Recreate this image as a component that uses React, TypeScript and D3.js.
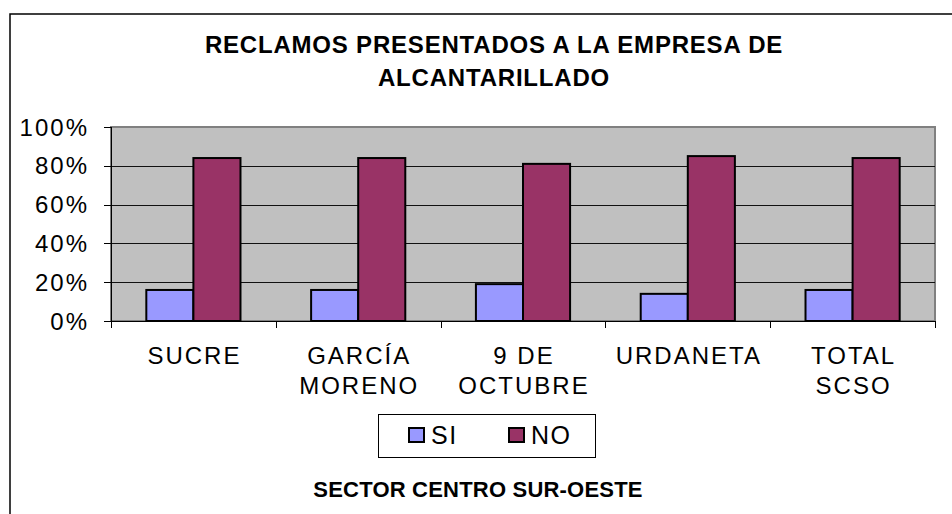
import React from "react";
import * as d3 from "d3";

const categories: string[][] = [
  ["SUCRE"],
  ["GARCÍA", "MORENO"],
  ["9 DE", "OCTUBRE"],
  ["URDANETA"],
  ["TOTAL", "SCSO"],
];
const seriesNames = ["SI", "NO"];
const siValues = [16, 16, 19, 14, 16];
const noValues = [84, 84, 81, 85, 84];
const yTicks = [0, 20, 40, 60, 80, 100];
const titleLines = ["RECLAMOS PRESENTADOS A LA EMPRESA DE", "ALCANTARILLADO"];
const xTitle = "SECTOR CENTRO SUR-OESTE";
const colors = ["#9999FF", "#993366"];

export default function App() {
  const W = 952, H = 514;
  const left = 111, right = 935, top = 127, bottom = 321;
  const keys = categories.map((c) => c.join(" "));
  const x = d3.scaleBand<string>().domain(keys).range([left, right]).padding(0);
  const xs = d3
    .scaleBand<string>()
    .domain(seriesNames)
    .range([0, x.bandwidth()])
    .paddingInner(0)
    .paddingOuter(0.75);
  const y = d3.scaleLinear().domain([0, 100]).range([bottom, top]);
  const values = [siValues, noValues];
  const font = "Arial, 'Liberation Sans', sans-serif";
  const ls = 2;
  const fs = 24;

  return (
    <svg
      width={W}
      height={H}
      style={{ position: "absolute", left: 0, top: 0, background: "#fff" }}
      fontFamily={font}
    >
      <rect x={10} y={14} width={W + 20} height={H + 20} fill="#fff" stroke="#000" strokeWidth={1.5} />
      {titleLines.map((t, i) => (
        <text
          key={t}
          x={494}
          y={53 + i * 33}
          textAnchor="middle"
          fontWeight="bold"
          fontSize={24}
          letterSpacing={0.8}
        >
          {t}
        </text>
      ))}
      <rect x={left} y={top} width={right - left} height={bottom - top} fill="#C0C0C0" stroke="#808080" strokeWidth={2} />
      {yTicks.slice(1, -1).map((t) => (
        <line key={t} x1={left} x2={right} y1={Math.round(y(t)) + 0.5} y2={Math.round(y(t)) + 0.5} stroke="#111" strokeWidth={1} />
      ))}
      {yTicks.map((t) => (
        <g key={"yt" + t}>
          <line x1={left - 7} x2={left} y1={Math.round(y(t)) + 0.5} y2={Math.round(y(t)) + 0.5} stroke="#000" />
          <text x={87 + ls} y={y(t) + 8.5} textAnchor="end" fontSize={fs} letterSpacing={ls}>
            {t + "%"}
          </text>
        </g>
      ))}
      <line x1={left + 0.5} x2={left + 0.5} y1={top} y2={bottom} stroke="#000" />
      {values.map((vals, si) =>
        vals.map((v, ci) => (
          <rect
            key={si + "-" + ci}
            x={(x(keys[ci]) ?? 0) + (xs(seriesNames[si]) ?? 0)}
            y={y(v)}
            width={xs.bandwidth()}
            height={y(0) - y(v)}
            fill={colors[si]}
            stroke="#000"
            strokeWidth={2}
          />
        ))
      )}
      <line x1={left} x2={right} y1={bottom + 0.5} y2={bottom + 0.5} stroke="#000" />
      {[...keys.map((k) => x(k) ?? 0), right].map((px, i) => (
        <line key={"xt" + i} x1={Math.round(px) + 0.5} x2={Math.round(px) + 0.5} y1={bottom} y2={bottom + 7} stroke="#000" />
      ))}
      {categories.map((lines, ci) => (
        <text
          key={"cl" + ci}
          x={(x(keys[ci]) ?? 0) + x.bandwidth() / 2 + ls / 2}
          textAnchor="middle"
          fontSize={fs}
          letterSpacing={ls}
        >
          {lines.map((l, li) => (
            <tspan key={li} x={(x(keys[ci]) ?? 0) + x.bandwidth() / 2 + ls / 2} y={364 + li * 30}>
              {l}
            </tspan>
          ))}
        </text>
      ))}
      <rect x={378.5} y={414.5} width={217} height={43} fill="#fff" stroke="#000" strokeWidth={1} />
      {seriesNames.map((s, i) => (
        <g key={"lg" + s}>
          <rect x={409 + i * 100} y={428} width={15} height={14} fill={colors[i]} stroke="#000" strokeWidth={2} />
          <text x={431 + i * 100} y={444} fontSize={25} letterSpacing={1.5}>
            {s}
          </text>
        </g>
      ))}
      <text x={478} y={497} textAnchor="middle" fontWeight="bold" fontSize={22} letterSpacing={0.2}>
        {xTitle}
      </text>
    </svg>
  );
}
